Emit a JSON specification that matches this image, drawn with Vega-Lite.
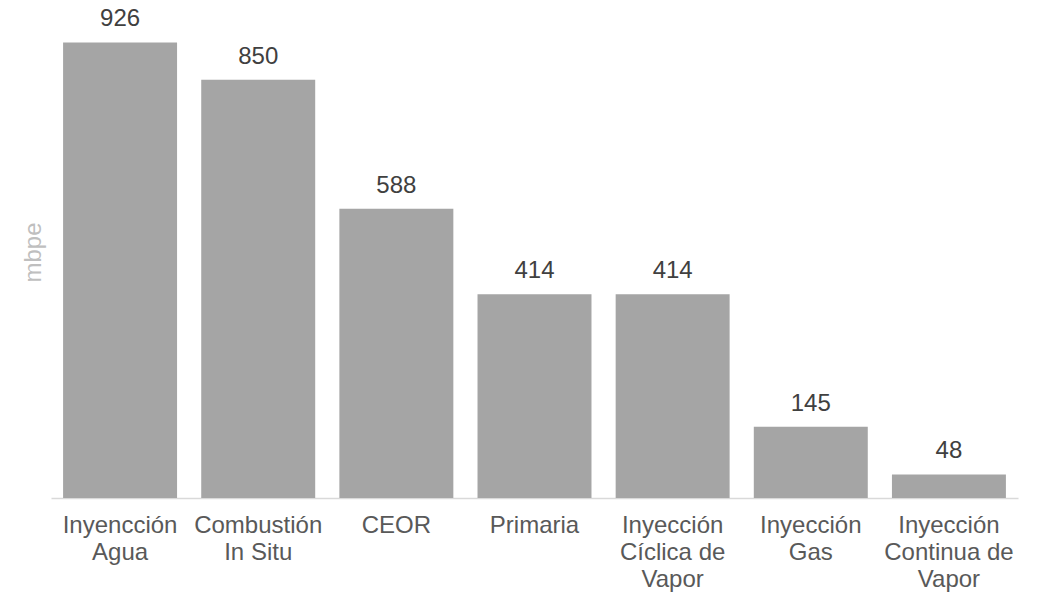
{
  "$schema": "https://vega.github.io/schema/vega-lite/v6.json",
  "width": 967,
  "height": 492,
  "autosize": {"type": "none"},
  "padding": {"left": 51, "top": 6, "right": 20, "bottom": 98},
  "background": "white",
  "data": {
    "values": [
      {"categoria": "Inyencción|Agua", "mbpe": 926},
      {"categoria": "Combustión|In Situ", "mbpe": 850},
      {"categoria": "CEOR", "mbpe": 588},
      {"categoria": "Primaria", "mbpe": 414},
      {"categoria": "Inyección|Cíclica de|Vapor", "mbpe": 414},
      {"categoria": "Inyección|Gas", "mbpe": 145},
      {"categoria": "Inyección|Continua de|Vapor", "mbpe": 48}
    ]
  },
  "config": {
    "view": {"stroke": null},
    "font": "Liberation Sans"
  },
  "encoding": {
    "x": {
      "field": "categoria",
      "type": "nominal",
      "sort": null,
      "scale": {"paddingInner": 0.175, "paddingOuter": 0.0875},
      "axis": {
        "title": null,
        "labelAngle": 0,
        "labelExpr": "split(datum.value, '|')",
        "labelFont": "Liberation Sans",
        "labelFontSize": 24,
        "labelLineHeight": 27,
        "labelColor": "#595959",
        "labelBaseline": "top",
        "labelPadding": 15,
        "ticks": false,
        "domainColor": "#d9d9d9",
        "domainWidth": 1.5,
        "labelLimit": 0
      }
    },
    "y": {
      "field": "mbpe",
      "type": "quantitative",
      "scale": {"domain": [0, 1000], "nice": false},
      "axis": {
        "title": "mbpe",
        "titleFont": "Liberation Sans",
        "titleFontSize": 24,
        "titleFontWeight": "normal",
        "titleColor": "#bfbfbf",
        "titlePadding": 6,
        "labels": false,
        "ticks": false,
        "domain": false,
        "grid": false
      }
    }
  },
  "layer": [
    {"mark": {"type": "bar", "color": "#a5a5a5"}},
    {
      "mark": {
        "type": "text",
        "baseline": "alphabetic",
        "dy": -16,
        "fontSize": 24,
        "color": "#404040",
        "font": "Liberation Sans"
      },
      "encoding": {"text": {"field": "mbpe", "type": "quantitative"}}
    }
  ]
}
